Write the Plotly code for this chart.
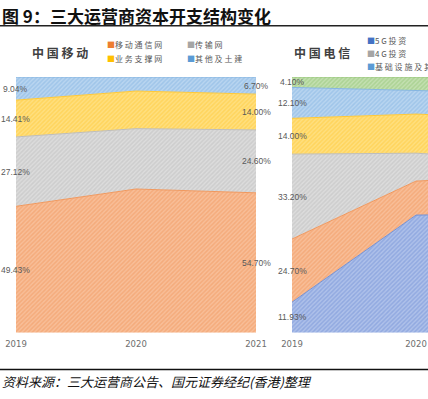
import plotly.graph_objects as go

W, H = 428, 399

# ---------------- data ----------------
years = [2019, 2020, 2021]
year_labels = ["2019", "2020", "2021"]

# 中国移动
cm_names = ["移动通信网", "传输网", "业务支撑网", "其他及土建"]
cm_mobile = [49.43, 56.2, 54.70]
cm_trans = [27.12, 23.6, 24.60]
cm_support = [14.41, 14.7, 14.00]
cm_other = [9.04, 5.5, 6.70]

# 中国电信
ct_names = ["5G投资", "宽带网", "4G投资", "产业数字化", "基础设施及其他", "其他"]
ct_5g = [11.93, 46.0, 46.5]
ct_bb = [24.70, 13.3, 15.0]
ct_4g = [33.20, 10.9, 6.0]
ct_dig = [14.00, 15.3, 16.0]
ct_infra = [12.10, 9.1, 10.0]
ct_other = [4.10, 5.4, 6.5]

# ---------------- styles ----------------
fills = {
    "orange": ("#F0985E", "#F8BE98"),
    "gray": ("#BDBDBD", "#DCDCDC"),
    "yellow": ("#FFC937", "#FFDF80"),
    "lblue": ("#85B5E2", "#B9D5F0"),
    "dblue": ("#7492D6", "#AFC1EA"),
    "green": ("#95C577", "#C3E0B1"),
}
legend_col = {
    "orange": "#ED7D31", "gray": "#A5A5A5", "yellow": "#FFC000",
    "lblue": "#5B9BD5", "dblue": "#4472C4", "green": "#70AD47",
}

fig = go.Figure()


def add_area(x, y, name, key, xa, ya, grp):
    fg, bg = fills[key]
    fig.add_trace(go.Scatter(
        x=x, y=y, name=name, mode="lines", stackgroup=grp,
        line=dict(color=fg, width=1),
        fillcolor=bg,
        fillpattern=dict(shape="/", fgcolor=fg, bgcolor=bg, size=3, solidity=0.5),
        xaxis=xa, yaxis=ya, showlegend=False, hoverinfo="skip",
    ))


cm_series = [(cm_mobile, "orange"), (cm_trans, "gray"), (cm_support, "yellow"), (cm_other, "lblue")]
for (vals, key), nm in zip(cm_series, cm_names):
    add_area(years, vals, nm, key, "x", "y", "cm")

ct_series = [(ct_5g, "dblue"), (ct_bb, "orange"), (ct_4g, "gray"),
             (ct_dig, "yellow"), (ct_infra, "lblue"), (ct_other, "green")]
for (vals, key), nm in zip(ct_series, ct_names):
    add_area(years, vals, nm, key, "x2", "y2", "ct")

# ---------------- data labels ----------------
lab_font = dict(family="Liberation Sans, Arial, sans-serif", size=8.5, color="#595959")


def add_labels(series, idx, xref, yref):
    cum = 0
    for vals, _ in series:
        v = vals[idx]
        fig.add_annotation(x=years[idx], y=cum + v / 2, xref=xref, yref=yref,
                           text=f"{v:.2f}%", showarrow=False, font=lab_font,
                           xanchor="center", yanchor="middle")
        cum += v


add_labels(cm_series, 0, "x", "y")
add_labels(cm_series, 2, "x", "y")
add_labels(ct_series, 0, "x2", "y2")

# ---------------- layout geometry ----------------
top_px, bot_px = 77, 332.7
ydom = [(H - bot_px) / H, (H - top_px) / H]
px_per_year = 124

tickfont = dict(family="DejaVu Sans, sans-serif", size=8.5, color="#6E6E6E")
fig.update_layout(
    width=W, height=H,
    margin=dict(l=0, r=0, t=0, b=0),
    paper_bgcolor="white", plot_bgcolor="white",
    showlegend=False,
    xaxis=dict(domain=[16 / W, 256 / W], range=[2019, 2021], tickvals=years, ticktext=year_labels,
               showgrid=False, zeroline=False, showline=False, ticks="", tickfont=tickfont,
               ticklabelstandoff=5, fixedrange=True, automargin=False),
    yaxis=dict(domain=ydom, range=[0, 100], visible=False, fixedrange=True),
    xaxis2=dict(domain=[292 / W, 1], range=[2019, 2019 + (W - 292) / px_per_year],
                tickvals=years, ticktext=year_labels, anchor="y2",
                showgrid=False, zeroline=False, showline=False, ticks="", tickfont=tickfont,
                ticklabelstandoff=5, fixedrange=True, automargin=False),
    yaxis2=dict(domain=ydom, range=[0, 100], visible=False, anchor="x2", fixedrange=True),
)

# ---------------- titles, legends, rules ----------------
def px(xp, yp):
    return xp / W, 1 - yp / H


cjk = "Noto Sans CJK SC, sans-serif"
x, y = px(0, 15)
fig.add_annotation(x=x, y=y, xref="paper", yref="paper", xanchor="left", yanchor="middle",
                   text="<b>图 9：三大运营商资本开支结构变化</b>", showarrow=False,
                   font=dict(family=cjk, size=17, color="#111111"))

for xp, txt in [(30, "中国移动"), (292, "中国电信")]:
    x, y = px(xp, 53)
    fig.add_annotation(x=x, y=y, xref="paper", yref="paper", xanchor="left", yanchor="middle",
                       text="<b>" + " ".join(txt) + "</b>", showarrow=False,
                       font=dict(family=cjk, size=12, color="#404040"))

leg_font = dict(family=cjk, size=8, color="#595959")


def legend_item(xp, yp, key, name):
    x, y = px(xp, yp)
    fig.add_annotation(x=x, y=y, xref="paper", yref="paper", xanchor="left", yanchor="middle",
                       text=f"<span style='color:{legend_col[key]}'>■</span>" + " ".join(name),
                       showarrow=False, font=leg_font)


legend_item(105, 44.5, "orange", cm_names[0])
legend_item(185, 44.5, "gray", cm_names[1])
legend_item(105, 58, "yellow", cm_names[2])
legend_item(185, 58, "lblue", cm_names[3])

legend_item(365, 40, "dblue", ct_names[0])
legend_item(365, 53.3, "gray", ct_names[2])
legend_item(365, 66.7, "lblue", ct_names[4])

fig.add_shape(type="line", xref="paper", yref="paper", x0=0, x1=1,
              y0=1 - 25.8 / H, y1=1 - 25.8 / H, line=dict(color="#222222", width=1.6))
fig.add_shape(type="line", xref="paper", yref="paper", x0=0, x1=1,
              y0=1 - 369.5 / H, y1=1 - 369.5 / H, line=dict(color="#111111", width=1.6))

x, y = px(0, 381)
fig.add_annotation(x=x, y=y, xref="paper", yref="paper", xanchor="left", yanchor="middle",
                   text="<i>资料来源：三大运营商公告、国元证券经纪(香港)整理</i>", showarrow=False,
                   font=dict(family=cjk, size=13, color="#111111"))

fig.write_html("out.html", config={"displayModeBar": False},
               post_script="document.body.style.margin='0px';document.body.style.padding='0px';")
